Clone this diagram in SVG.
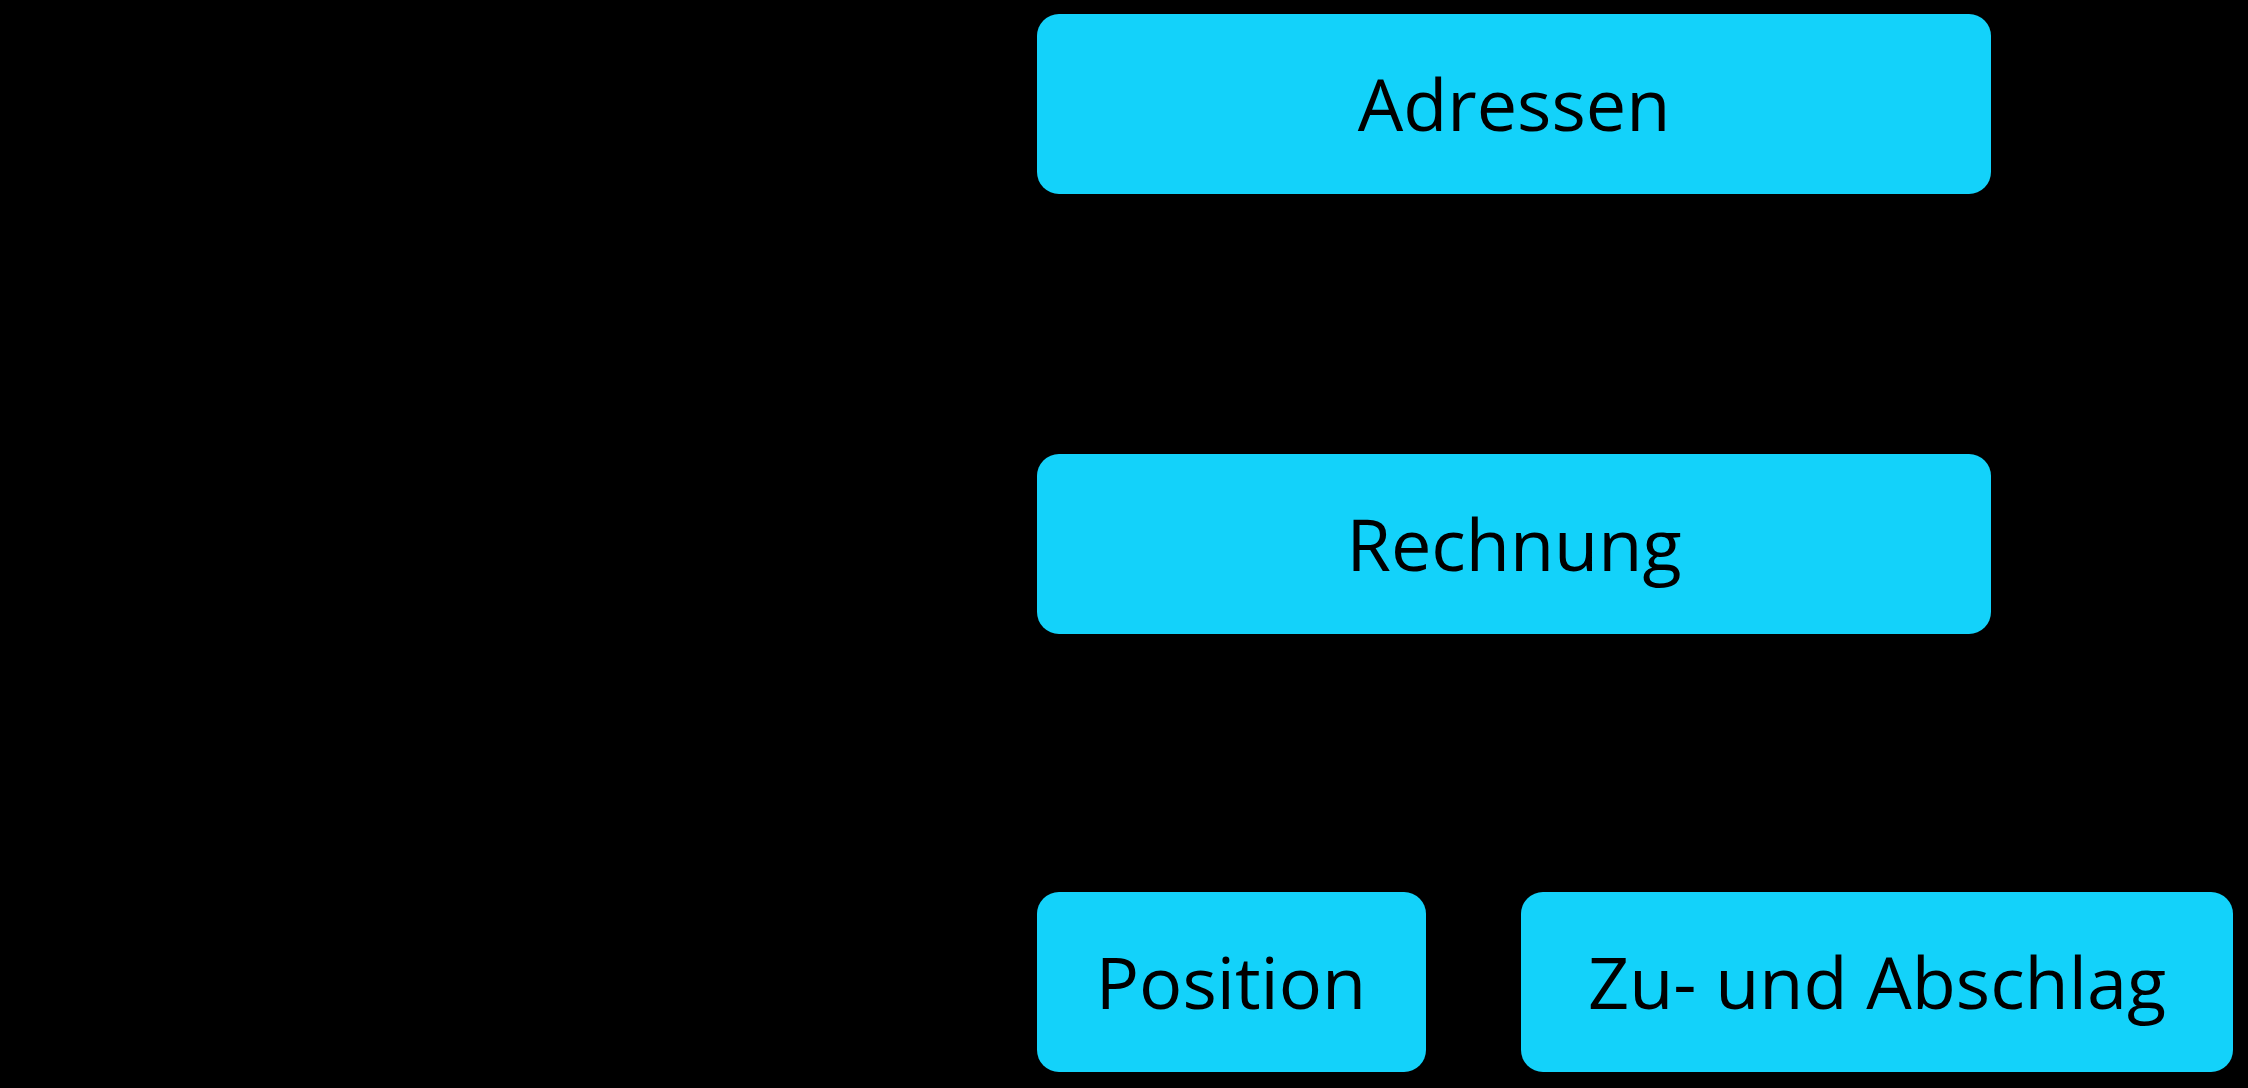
<svg xmlns="http://www.w3.org/2000/svg" width="2248" height="1088" viewBox="0 0 2248 1088">
  <style>
    .box { fill: #13D2FA; }
    .label { font-family: "Open Sans", "Noto Sans", "Liberation Sans", sans-serif; font-size: 72px; fill: #000000; text-anchor: middle; }
  </style>
  <rect x="0" y="0" width="2248" height="1088" fill="#000000"/>
  <g id="connectors"></g>
  <g id="node-adressen">
    <rect class="box" x="1037" y="14" width="954" height="180" rx="22" ry="22"/>
    <text class="label" x="1514" y="131">Adressen</text>
  </g>
  <g id="node-rechnung">
    <rect class="box" x="1037" y="454" width="954" height="180" rx="22" ry="22"/>
    <text class="label" x="1514" y="571">Rechnung</text>
  </g>
  <g id="node-position">
    <rect class="box" x="1037" y="892" width="389" height="180" rx="22" ry="22"/>
    <text class="label" x="1231" y="1009">Position</text>
  </g>
  <g id="node-zuabschlag">
    <rect class="box" x="1521" y="892" width="712" height="180" rx="22" ry="22"/>
    <text class="label" x="1877" y="1009">Zu- und Abschlag</text>
  </g>
</svg>
